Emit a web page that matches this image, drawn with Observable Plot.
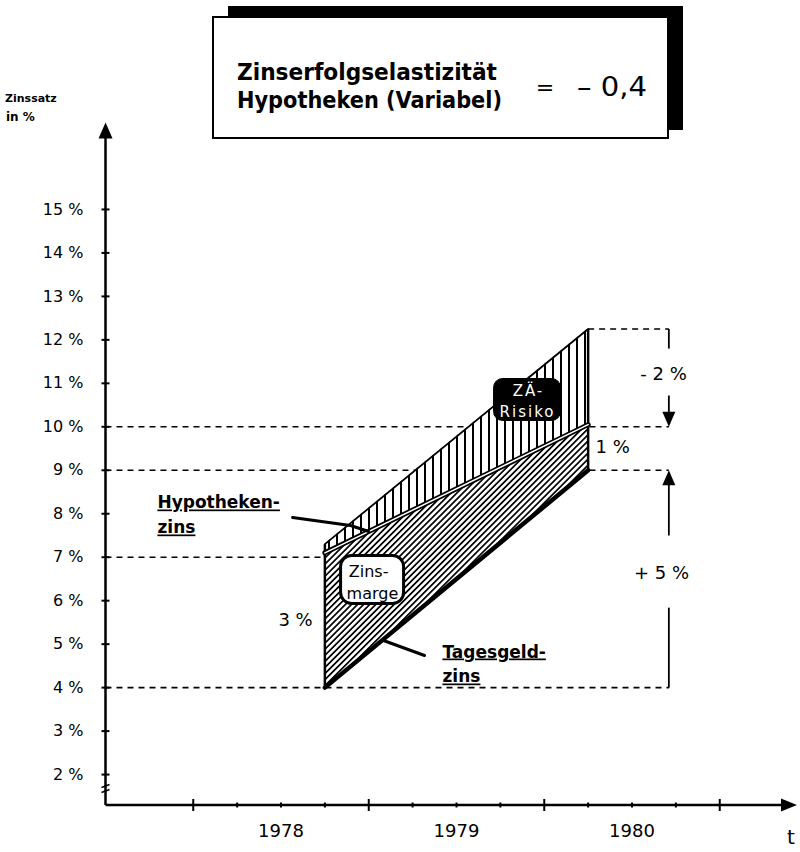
<!DOCTYPE html>
<html>
<head>
<meta charset="utf-8">
<script src="https://cdn.jsdelivr.net/npm/d3@7"></script>
<script src="https://cdn.jsdelivr.net/npm/@observablehq/plot@0.6"></script>
<style>
html,body{margin:0;padding:0;background:#fff;}
#chart{position:relative;width:800px;height:852px;overflow:hidden;background:#fff;}
</style>
</head>
<body>
<div id="chart"></div>
<script>
// ---------- data ----------
const periods = [1978.75, 1980.25];
const tagesgeldzins = [4.0, 9.0];
const hypothekenzins = [7.1, 10.05];
const risikoObergrenze = [7.3, 12.25];

const yTicks = [2, 3, 4, 5, 6, 7, 8, 9, 10, 11, 12, 13, 14, 15];
const yTickLabels = ["2 %", "3 %", "4 %", "5 %", "6 %", "7 %", "8 %", "9 %", "10 %", "11 %", "12 %", "13 %", "14 %", "15 %"];
const years = [1978, 1979, 1980];
const yearLabels = ["1978", "1979", "1980"];
const yearTicks = [1978, 1979, 1980, 1981];
const quarterTicks = [1978.25, 1978.5, 1978.75, 1979.25, 1979.5, 1979.75, 1980.25, 1980.5, 1980.75];

const refLevels = [12.25, 10, 9, 7, 4];
const refStart = [1980.25, 1977.5, 1977.5, 1977.5, 1977.5];
const refEnd = [1980.71, 1980.71, 1980.71, 1978.75, 1980.71];

// ---------- helpers ----------
const X0 = 1977.5, X1 = 1981.44, Y0 = 1.3, Y1 = 17;
const rows = periods.map((t, i) => ({t, tg: tagesgeldzins[i], hy: hypothekenzins[i], top: risikoObergrenze[i]}));
const refLines = refLevels.map((y, i) => ({y, x1: refStart[i], x2: refEnd[i]}));

const sym = f => ({draw(c) { f(c); }});
const hTick = r => sym(c => { c.moveTo(-r, 0); c.lineTo(r, 0); });
const vTick = r => sym(c => { c.moveTo(0, -r); c.lineTo(0, r); });
const arrowUp = (w, h) => sym(c => { c.moveTo(0, 0); c.lineTo(w / 2, h); c.lineTo(-w / 2, h); c.closePath(); });
const arrowDown = (w, h) => sym(c => { c.moveTo(0, 0); c.lineTo(w / 2, -h); c.lineTo(-w / 2, -h); c.closePath(); });
const arrowRight = (w, h) => sym(c => { c.moveTo(0, 0); c.lineTo(-h, -w / 2); c.lineTo(-h, w / 2); c.closePath(); });
const breakSym = sym(c => { c.moveTo(-4, -2); c.lineTo(4, -5); c.moveTo(-4, 3); c.lineTo(4, 0); });
const roundRect = (w, h, r) => sym(c => {
  const x0 = -w / 2, y0 = -h / 2, x1 = w / 2, y1 = h / 2;
  c.moveTo(x0 + r, y0); c.lineTo(x1 - r, y0); c.arcTo(x1, y0, x1, y0 + r, r);
  c.lineTo(x1, y1 - r); c.arcTo(x1, y1, x1 - r, y1, r);
  c.lineTo(x0 + r, y1); c.arcTo(x0, y1, x0, y1 - r, r);
  c.lineTo(x0, y0 + r); c.arcTo(x0, y0, x0 + r, y0, r); c.closePath();
});

const axisLines = [{x1: X0, y1: Y0, x2: X1 - 0.03, y2: Y0}, {x1: X0, y1: Y0, x2: X0, y2: Y1 - 0.2}];
const rightRules = [
  {x1: 1980.71, y1: 12.25, x2: 1980.71, y2: 11.8},
  {x1: 1980.71, y1: 10.72, x2: 1980.71, y2: 10.2},
  {x1: 1980.71, y1: 7.5, x2: 1980.71, y2: 8.8},
  {x1: 1980.71, y1: 5.84, x2: 1980.71, y2: 4.0}
];
const hypLeader = [{x: 1978.566, y: 7.914}, {x: 1978.896, y: 7.73}, {x: 1979.0, y: 7.592}];
const tagLeader = [{x: 1979.084, y: 5.084}, {x: 1979.318, y: 4.739}];

const boldLabels = [
  {text: "Hypotheken-", x: 1977.796, y: 8.121},
  {text: "zins", x: 1977.796, y: 7.546},
  {text: "Tagesgeld-", x: 1979.420, y: 4.693},
  {text: "zins", x: 1979.420, y: 4.118}
];
const pctLabels = [
  {text: "3 %", x: 1978.583, y: 5.544},
  {text: "- 2 %", x: 1980.68, y: 11.2},
  {text: "1 %", x: 1980.39, y: 9.52},
  {text: "+ 5 %", x: 1980.668, y: 6.63}
];
const margeLabels = [
  {text: "Zins-", x: 1978.999, y: 6.534},
  {text: "marge", x: 1979.021, y: 6.05}
];
const risikoLabels = [
  {text: "ZÄ-", x: 1979.910, y: 10.72},
  {text: "Risiko", x: 1979.905, y: 10.214}
];

const plot = Plot.plot({
  width: 800, height: 852, margin: 0,
  x: {domain: [1977.5, 1981.5], range: [105, 807], axis: null},
  y: {domain: [1.3, 17], range: [804.5, 122], axis: null},
  style: {background: "white", fontFamily: "DejaVu Sans", color: "black", overflow: "visible"},
  marks: [
    Plot.link(refLines, {x1: "x1", x2: "x2", y1: "y", y2: "y", stroke: "black", strokeWidth: 1.6, strokeDasharray: "6,5"}),
    Plot.areaY(rows, {x: "t", y1: "hy", y2: "top", fill: "url(#vhatch)"}),
    Plot.areaY(rows, {x: "t", y1: "tg", y2: "hy", fill: "url(#dhatch)"}),
    Plot.line(rows, {x: "t", y: "top", stroke: "black", strokeWidth: 1.8}),
    Plot.link(rows, {x1: "t", x2: "t", y1: "tg", y2: "top", stroke: "black", strokeWidth: 2.5}),
    Plot.line(rows, {x: "t", y: "hy", stroke: "black", strokeWidth: 5}),
    Plot.line(rows, {x: "t", y: "hy", stroke: "white", strokeWidth: 1.5}),
    Plot.line(rows, {x: "t", y: "tg", stroke: "black", strokeWidth: 4.5}),

    // axes
    Plot.link(axisLines, {x1: "x1", y1: "y1", x2: "x2", y2: "y2", stroke: "black", strokeWidth: 2.5}),
    Plot.dot([0], {x: () => X1, y: () => Y0, symbol: arrowRight(13, 16), fill: "black", stroke: "none"}),
    Plot.dot([0], {x: () => X0, y: () => Y1, symbol: arrowUp(14, 16), fill: "black", stroke: "none"}),
    Plot.dot(yTicks, {x: () => X0, y: d => d, symbol: hTick(4), stroke: "black", strokeWidth: 2, fill: "none"}),
    Plot.dot(yearTicks, {x: d => d, y: () => Y0, symbol: vTick(6), stroke: "black", strokeWidth: 2, fill: "none"}),
    Plot.dot(quarterTicks, {x: d => d, y: () => Y0, symbol: vTick(2.5), stroke: "black", strokeWidth: 2, fill: "none"}),
    Plot.dot([0], {x: () => X0, y: () => 1.657, symbol: breakSym, stroke: "black", strokeWidth: 1.5, fill: "none"}),
    Plot.text(yTicks, {x: () => X0, y: d => d, text: (d, i) => yTickLabels[i], textAnchor: "end", dx: -22, fontSize: 16, lineAnchor: "middle"}),
    Plot.text(years, {x: d => d + 0.5, y: () => Y0, text: (d, i) => yearLabels[i], dy: 26.5, fontSize: 18, lineAnchor: "middle"}),
    Plot.text(["t"], {x: () => X1, y: () => Y0, text: d => d, textAnchor: "start", dx: -10, dy: 33, fontSize: 20, lineAnchor: "middle"}),

    // right annotations
    Plot.link(rightRules, {x1: "x1", y1: "y1", x2: "x2", y2: "y2", stroke: "black", strokeWidth: 1.8}),
    Plot.dot([0], {x: () => 1980.71, y: () => 10.0, symbol: arrowDown(13, 15), fill: "black", stroke: "none"}),
    Plot.dot([0], {x: () => 1980.71, y: () => 9.0, symbol: arrowUp(13, 15), fill: "black", stroke: "none"}),
    Plot.text(pctLabels, {x: "x", y: "y", text: "text", fontSize: 18, lineAnchor: "middle"}),

    // leaders & labels
    Plot.line(hypLeader, {x: "x", y: "y", stroke: "black", strokeWidth: 3}),
    Plot.line(tagLeader, {x: "x", y: "y", stroke: "black", strokeWidth: 3}),
    Plot.text(boldLabels, {x: "x", y: "y", text: "text", textAnchor: "start", fontSize: 17, fontWeight: "bold", lineAnchor: "bottom"}),
    Plot.dot([0], {x: () => 1979.019, y: () => 6.488, symbol: roundRect(63, 48, 11), fill: "white", stroke: "black", strokeWidth: 3}),
    Plot.text(margeLabels, {x: "x", y: "y", text: "text", fontSize: 16, lineAnchor: "bottom"}),
    Plot.dot([0], {x: () => 1979.902, y: () => 10.628, symbol: roundRect(67, 42, 9), fill: "black", stroke: "black", strokeWidth: 1}),
    Plot.text(risikoLabels, {x: "x", y: "y", text: "text", fontSize: 15, fill: "white", lineAnchor: "bottom"})
  ]
});

// patterns
const sel = d3.select(plot);
const defs = sel.insert("defs", ":first-child");
const vp = defs.append("pattern").attr("id", "vhatch").attr("patternUnits", "userSpaceOnUse").attr("width", 8).attr("height", 10);
vp.append("rect").attr("width", 8).attr("height", 10).attr("fill", "white");
vp.append("rect").attr("x", 0).attr("width", 2).attr("height", 10).attr("fill", "black");
const dp = defs.append("pattern").attr("id", "dhatch").attr("patternUnits", "userSpaceOnUse").attr("width", 4.3).attr("height", 10).attr("patternTransform", "rotate(45)");
dp.append("rect").attr("width", 4.3).attr("height", 10).attr("fill", "white");
dp.append("rect").attr("x", 0).attr("width", 1.7).attr("height", 10).attr("fill", "black");

// text styling
plot.querySelectorAll("text").forEach(t => {
  const s = t.textContent;
  if (s === "Hypotheken-" || s === "zins" || s === "Tagesgeld-") {
    t.style.textDecoration = "underline";
    t.style.textDecorationThickness = "2px";
    t.style.textUnderlineOffset = "2px";
  }
  if (s === "Risiko" || s === "ZÄ-") t.setAttribute("letter-spacing", "2");
});

// title box and y-axis caption
const g = sel.append("g").attr("text-anchor", "start");
g.append("rect").attr("x", 228).attr("y", 6).attr("width", 455).attr("height", 124).attr("fill", "black");
g.append("rect").attr("x", 213).attr("y", 17).attr("width", 455).attr("height", 121).attr("fill", "white").attr("stroke", "black").attr("stroke-width", 2);
const tf = "'DejaVu Sans Condensed', 'DejaVu Sans', sans-serif";
g.append("text").attr("x", 237).attr("y", 80).attr("font-family", tf).attr("font-weight", "bold").attr("font-size", 23)
  .attr("textLength", 260).attr("lengthAdjust", "spacingAndGlyphs").text("Zinserfolgselastizität");
g.append("text").attr("x", 237).attr("y", 108).attr("font-family", tf).attr("font-weight", "bold").attr("font-size", 23)
  .attr("textLength", 265).attr("lengthAdjust", "spacingAndGlyphs").text("Hypotheken (Variabel)");
g.append("text").attr("x", 545).attr("y", 95).attr("text-anchor", "middle").attr("font-family", "DejaVu Sans").attr("font-size", 22).text("=");
g.append("text").attr("x", 577).attr("y", 96).attr("font-family", "DejaVu Sans").attr("font-size", 26)
  .attr("textLength", 70).attr("lengthAdjust", "spacingAndGlyphs").text("–\u00a00,4");
g.append("text").attr("x", 5).attr("y", 102).attr("font-family", "DejaVu Sans").attr("font-weight", "bold").attr("font-size", 11).text("Zinssatz");
g.append("text").attr("x", 6).attr("y", 121).attr("font-family", "DejaVu Sans").attr("font-weight", "bold").attr("font-size", 12).text("in %");

document.getElementById("chart").appendChild(plot);
</script>
</body>
</html>
